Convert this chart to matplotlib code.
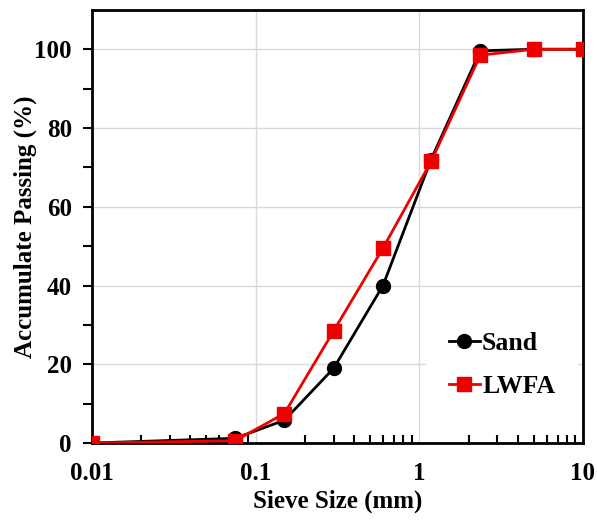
import numpy as np
import matplotlib.pyplot as plt
from matplotlib.ticker import FixedLocator, NullFormatter, LogLocator

# sieve sizes (mm) and passing (%)
sieve = [0.01, 0.075, 0.15, 0.3, 0.6, 1.18, 2.36, 5, 10]
sand = [0, 1.2, 5.8, 19, 40, 72, 99.6, 100, 100]
lwfa = [0, 0.6, 7.5, 28.5, 49.5, 71.5, 98.5, 100, 100]

plt.rcParams['font.family'] = ['Liberation Serif', 'DejaVu Serif']
plt.rcParams['font.weight'] = 'bold'

fig = plt.figure(figsize=(5.97, 5.2), dpi=100)
ax = fig.add_axes([0.154, 0.148, 0.8225, 0.833])

ax.plot(sieve, sand, '-o', color='black', lw=2, ms=10, label='Sand', zorder=3)
ax.plot(sieve, lwfa, '-s', color='#ee0000', lw=2, ms=10, label='LWFA', zorder=4)

ax.set_xscale('log')
ax.set_xlim(0.01, 10)
ax.set_ylim(0, 110)
ax.set_xticks([0.01, 0.1, 1, 10])
ax.set_xticklabels(['0.01', '0.1', '1', '10'])
ax.xaxis.set_minor_locator(LogLocator(base=10, subs=np.arange(2, 10)))
ax.xaxis.set_minor_formatter(NullFormatter())
ax.set_yticks([0, 20, 40, 60, 80, 100])
ax.yaxis.set_minor_locator(FixedLocator([10, 30, 50, 70, 90]))

ax.grid(True, which='major', color='#d9d9d9', lw=1)
ax.set_axisbelow(True)
for s in ax.spines.values():
    s.set_linewidth(2)
ax.tick_params(axis='x', which='both', direction='in', width=1.5, labelsize=18, pad=14)
ax.tick_params(axis='x', which='major', length=0)
ax.tick_params(axis='x', which='minor', length=6)
ax.tick_params(axis='y', which='both', direction='out', width=1.5, labelsize=18, length=6.5, pad=8)
ax.tick_params(axis='x', top=False)

ax.set_xlabel('Sieve Size (mm)', fontsize=18, fontweight='bold', labelpad=3)
ax.set_ylabel('Accumulate Passing (%)', fontsize=18, fontweight='bold', labelpad=-2)

leg = ax.legend(loc='center', bbox_to_anchor=(0.835, 0.18), fontsize=18.5, frameon=True,
                handlelength=1.2, handletextpad=0.1, borderpad=0.6, labelspacing=0.8)
leg.get_frame().set_facecolor('white')
leg.get_frame().set_edgecolor('none')
leg.get_frame().set_alpha(1)
leg.get_frame().set_boxstyle('square')

fig.savefig('out.png', dpi=100)
